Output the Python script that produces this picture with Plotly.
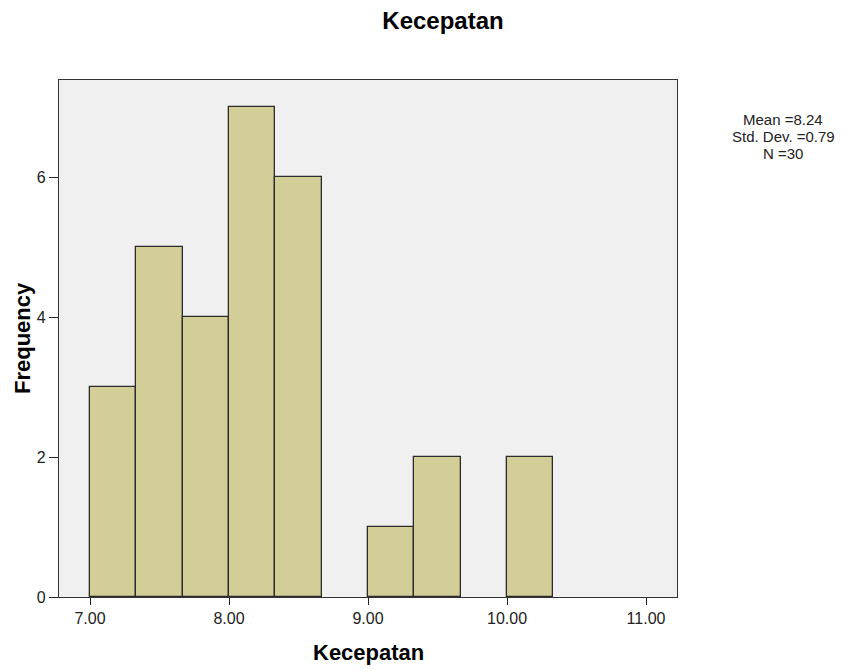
import plotly.graph_objects as go

# Histogram of Kecepatan: bin edges start at 7.00 with width 1/3
bin_start = 7.0
bin_width = 1.0 / 3.0
counts = [3, 5, 4, 7, 6, 0, 1, 2, 0, 2]

x_ticks = [7.0, 8.0, 9.0, 10.0, 11.0]
x_tick_labels = ["7.00", "8.00", "9.00", "10.00", "11.00"]
y_ticks = [0, 2, 4, 6]

stats_lines = ["Mean =8.24", "Std. Dev. =0.79", "N =30"]

centers = [bin_start + (i + 0.5) * bin_width for i, c in enumerate(counts) if c > 0]
heights = [c for c in counts if c > 0]

font_family = "Liberation Sans, Arial, sans-serif"

# plot-area pixel geometry (used to place titles and side text)
W, H = 845, 669
PLOT_TOP, PLOT_BOTTOM, PLOT_LEFT, PLOT_RIGHT = 80, 597, 59, 677
PW, PH = PLOT_RIGHT - PLOT_LEFT, PLOT_BOTTOM - PLOT_TOP


def px_to_paper(px, py):
    return (px - PLOT_LEFT) / PW, (PLOT_BOTTOM - py) / PH


fig = go.Figure()
fig.add_trace(go.Bar(
    x=centers,
    y=heights,
    width=bin_width,
    marker=dict(color="#d3ce98", line=dict(color="#2b2b2b", width=1.3)),
    hoverinfo="x+y",
))

fig.update_layout(
    width=W,
    height=H,
    paper_bgcolor="white",
    plot_bgcolor="#f0f0f0",
    margin=dict(l=PLOT_LEFT, r=W - PLOT_RIGHT, t=PLOT_TOP, b=H - PLOT_BOTTOM),
    showlegend=False,
    font=dict(family=font_family, color="#222222"),
    title=dict(
        text="<b>Kecepatan</b>",
        x=443 / W, xref="container", xanchor="center",
        y=1 - 21 / H, yref="container", yanchor="middle",
        font=dict(size=24, color="black"),
    ),
    bargap=0,
)

fig.update_xaxes(
    range=[6.777, 11.223],
    tickvals=x_ticks,
    ticktext=x_tick_labels,
    ticks="outside", ticklen=7, tickcolor="#222222", tickwidth=1,
    tickfont=dict(size=16, color="#222222"),
    showgrid=False, zeroline=False, automargin=False,
    showline=True, linecolor="#333333", linewidth=1.3, mirror=True,
)
fig.update_yaxes(
    range=[0, 7.386],
    tickvals=y_ticks,
    ticks="outside", ticklen=9, tickcolor="#222222", tickwidth=1,
    tickfont=dict(size=16, color="#222222"),
    showgrid=False, zeroline=False, automargin=False,
    showline=True, linecolor="#333333", linewidth=1.3, mirror=True,
)

# axis titles
ax, ay = px_to_paper(368, 652)
fig.add_annotation(text="<b>Kecepatan</b>", xref="paper", yref="paper", x=ax, y=ay,
                   xanchor="center", yanchor="middle", showarrow=False,
                   font=dict(size=22, color="black", family=font_family))
ax, ay = px_to_paper(22, 338)
fig.add_annotation(text="<b>Frequency</b>", xref="paper", yref="paper", x=ax, y=ay,
                   xanchor="center", yanchor="middle", showarrow=False, textangle=-90,
                   font=dict(size=22, color="black", family=font_family))

# summary statistics, one annotation per line
line_centers_px = [120, 136.5, 153]
for text, py in zip(stats_lines, line_centers_px):
    ax, ay = px_to_paper(783, py)
    fig.add_annotation(
        text=text,
        xref="paper", yref="paper", x=ax, y=ay,
        xanchor="center", yanchor="middle",
        showarrow=False, align="center",
        font=dict(size=15, color="#222222", family=font_family),
    )

fig.write_html("out.html")
